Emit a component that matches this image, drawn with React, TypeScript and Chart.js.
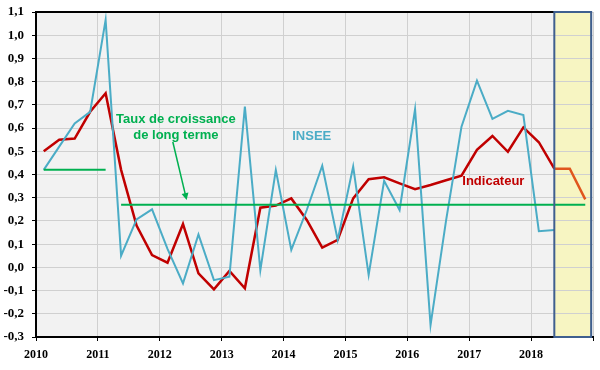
import React, { useEffect, useRef } from 'react';
import { Chart, registerables } from 'chart.js';

Chart.register(...registerables);

// ---- data ----
const years = [2010, 2011, 2012, 2013, 2014, 2015, 2016, 2017, 2018];
const quarterNames = ['T1', 'T2', 'T3', 'T4'];
const quarters = years.flatMap((y) => quarterNames.map((q) => `${y}${q}`));

// Indicateur (2010T1 .. 2018T4)
const indicateur = [
  0.50, 0.55, 0.555, 0.67,
  0.75, 0.42, 0.18, 0.053,
  0.02, 0.187, -0.026, -0.095,
  -0.015, -0.09, 0.257, 0.266,
  0.297, 0.204, 0.085, 0.118,
  0.297, 0.38, 0.388, 0.362,
  0.337, 0.355, 0.375, 0.395,
  0.506, 0.566, 0.498, 0.603,
  0.539, 0.425, 0.425, 0.293,
];

// INSEE (2010T1 .. 2018T2)
const insee = [
  0.42, 0.52, 0.62, 0.67,
  1.066, 0.05, 0.207, 0.25,
  0.08, -0.069, 0.142, -0.055,
  -0.04, 0.692, -0.012, 0.419,
  0.075, 0.247, 0.438, 0.118,
  0.434, -0.033, 0.373, 0.247,
  0.681, -0.249, 0.2, 0.606,
  0.804, 0.64, 0.674, 0.656,
  0.156, 0.161,
];

// Taux de croissance de long terme
const longTermLevels = [0.42, 0.27];
const longTermStart = ['2010T1', '2011T2'];
const longTermEnd = ['2011T1', '2018T4'];

const forecastFirstQuarter = '2018T2';
const forecastEnd = 2018.97;

const yTicksMin = -0.3;
const yTicksMax = 1.1;
const xMin = 2010;
const xMax = 2019;

// ---- helpers ----
const quarterPos = (label: string) => {
  const y = parseInt(label.slice(0, 4), 10);
  const q = parseInt(label.slice(5), 10);
  return y + (q - 0.5) / 4;
};

const BLUE = '#4bacc6';
const RED = '#c00000';
const ORANGE = '#e0561e';
const GREEN = '#00b050';

const decor = {
  id: 'decor',
  beforeDraw(chart: any) {
    const { ctx, chartArea: a, scales } = chart;
    const x = scales.x;
    ctx.save();
    ctx.fillStyle = '#f2f2f2';
    ctx.fillRect(a.left, a.top, a.right - a.left, a.bottom - a.top);
    const x0 = x.getPixelForValue(quarterPos(forecastFirstQuarter));
    const x1 = x.getPixelForValue(forecastEnd);
    ctx.fillStyle = '#f7f5c2';
    ctx.fillRect(x0, a.top, x1 - x0, a.bottom - a.top);
    ctx.restore();
  },
  afterDatasetsDraw(chart: any) {
    const { ctx, chartArea: a, scales } = chart;
    const x = scales.x;
    const y = scales.y;
    const x0 = x.getPixelForValue(quarterPos(forecastFirstQuarter));
    const x1 = x.getPixelForValue(forecastEnd);
    ctx.save();
    // top frame
    ctx.strokeStyle = '#000';
    ctx.lineWidth = 2;
    ctx.beginPath();
    ctx.moveTo(a.left, a.top);
    ctx.lineTo(x0, a.top);
    ctx.stroke();
    // forecast box border
    ctx.strokeStyle = '#3f5f8f';
    ctx.lineWidth = 2;
    ctx.strokeRect(x0, a.top, x1 - x0, a.bottom - a.top);

    // annotations
    ctx.font = 'bold 13px "Liberation Sans", Arial, sans-serif';
    ctx.textAlign = 'center';
    ctx.textBaseline = 'middle';
    ctx.fillStyle = GREEN;
    ctx.fillText('Taux de croissance', x.getPixelForValue(2012.26), y.getPixelForValue(0.639));
    ctx.fillText('de long terme', x.getPixelForValue(2012.26), y.getPixelForValue(0.57));
    ctx.fillStyle = BLUE;
    ctx.fillText('INSEE', x.getPixelForValue(2014.455), y.getPixelForValue(0.562));
    ctx.fillStyle = RED;
    ctx.fillText('Indicateur', x.getPixelForValue(2017.39), y.getPixelForValue(0.369));

    // arrow
    const ax0 = x.getPixelForValue(2012.21);
    const ay0 = y.getPixelForValue(0.541);
    const ax1 = x.getPixelForValue(2012.434);
    const ay1 = y.getPixelForValue(0.29);
    const ang = Math.atan2(ay1 - ay0, ax1 - ax0);
    ctx.strokeStyle = GREEN;
    ctx.fillStyle = GREEN;
    ctx.lineWidth = 1.5;
    ctx.beginPath();
    ctx.moveTo(ax0, ay0);
    ctx.lineTo(ax1 - 5 * Math.cos(ang), ay1 - 5 * Math.sin(ang));
    ctx.stroke();
    const hl = 7;
    const hw = 3.5;
    ctx.beginPath();
    ctx.moveTo(ax1, ay1);
    ctx.lineTo(
      ax1 - hl * Math.cos(ang) + hw * Math.sin(ang),
      ay1 - hl * Math.sin(ang) - hw * Math.cos(ang)
    );
    ctx.lineTo(
      ax1 - hl * Math.cos(ang) - hw * Math.sin(ang),
      ay1 - hl * Math.sin(ang) + hw * Math.cos(ang)
    );
    ctx.closePath();
    ctx.fill();
    ctx.restore();
  },
};

export default function App() {
  const ref = useRef<HTMLCanvasElement | null>(null);

  useEffect(() => {
    document.body.style.margin = '0';
    const canvas = ref.current;
    if (!canvas) return;

    const forecastX = quarterPos(forecastFirstQuarter);

    const longTermSets = longTermLevels.map((lvl, i) => ({
      label: `long${i}`,
      data: [
        { x: quarterPos(longTermStart[i]), y: lvl },
        { x: quarterPos(longTermEnd[i]), y: lvl },
      ],
      borderColor: GREEN,
      borderWidth: 2,
      pointRadius: 0,
      tension: 0,
    }));

    const chart = new Chart(canvas, {
      type: 'line',
      data: {
        datasets: [
          ...longTermSets,
          {
            label: 'INSEE',
            data: insee.map((v, i) => ({ x: quarterPos(quarters[i]), y: v })),
            borderColor: BLUE,
            borderWidth: 2,
            pointRadius: 0,
            tension: 0,
          },
          {
            label: 'Indicateur',
            data: indicateur.map((v, i) => ({ x: quarterPos(quarters[i]), y: v })),
            borderColor: RED,
            borderWidth: 2.5,
            pointRadius: 0,
            tension: 0,
            segment: {
              borderColor: (c: any) => (c.p0.parsed.x >= forecastX - 1e-6 ? ORANGE : RED),
            },
          },
        ] as any,
      },
      options: {
        animation: false,
        responsive: false,
        maintainAspectRatio: false,
        layout: { padding: { left: 0, top: 12, right: 6, bottom: 0 } },
        plugins: {
          legend: { display: false },
          tooltip: { enabled: false },
        },
        scales: {
          x: {
            type: 'linear',
            min: xMin,
            max: xMax,
            afterFit: (s: any) => {
              s.height = 33;
            },
            afterBuildTicks: (s: any) => {
              const t = [];
              for (let v = xMin; v <= xMax; v++) t.push({ value: v });
              s.ticks = t;
            },
            ticks: {
              autoSkip: false,
              maxRotation: 0,
              padding: 7,
              color: '#000',
              font: { family: '"Liberation Serif", "Times New Roman", serif', size: 12, weight: 'bold' },
              callback: (v: any) => (Number(v) === xMax ? '' : String(v)),
            },
            grid: {
              color: '#d0d0d0',
              lineWidth: 1,
              tickColor: '#000',
              tickLength: 4,
            },
            border: { color: '#000', width: 2 },
          },
          y: {
            type: 'linear',
            min: yTicksMin,
            max: yTicksMax,
            afterFit: (s: any) => {
              s.width = 36;
              s.paddingTop = 0;
              s.paddingBottom = 0;
            },
            afterBuildTicks: (s: any) => {
              const t = [];
              for (let k = Math.round(yTicksMin * 10); k <= Math.round(yTicksMax * 10); k++) t.push({ value: k / 10 });
              s.ticks = t;
            },
            ticks: {
              autoSkip: false,
              padding: 8,
              color: '#000',
              font: { family: '"Liberation Serif", "Times New Roman", serif', size: 13, weight: 'bold' },
              callback: (v: any) => {
                const n = Math.round(Number(v) * 10) / 10;
                return (n === 0 ? 0 : n).toFixed(1).replace('.', ',');
              },
            },
            grid: {
              color: '#d0d0d0',
              lineWidth: 1,
              tickColor: '#000',
              tickLength: 4,
            },
            border: { color: '#000', width: 2 },
          },
        },
      } as any,
      plugins: [decor],
    });

    return () => chart.destroy();
  }, []);

  return (
    <div style={{ width: 600, height: 370 }}>
      <canvas ref={ref} width={600} height={370} style={{ display: 'block' }} />
    </div>
  );
}
